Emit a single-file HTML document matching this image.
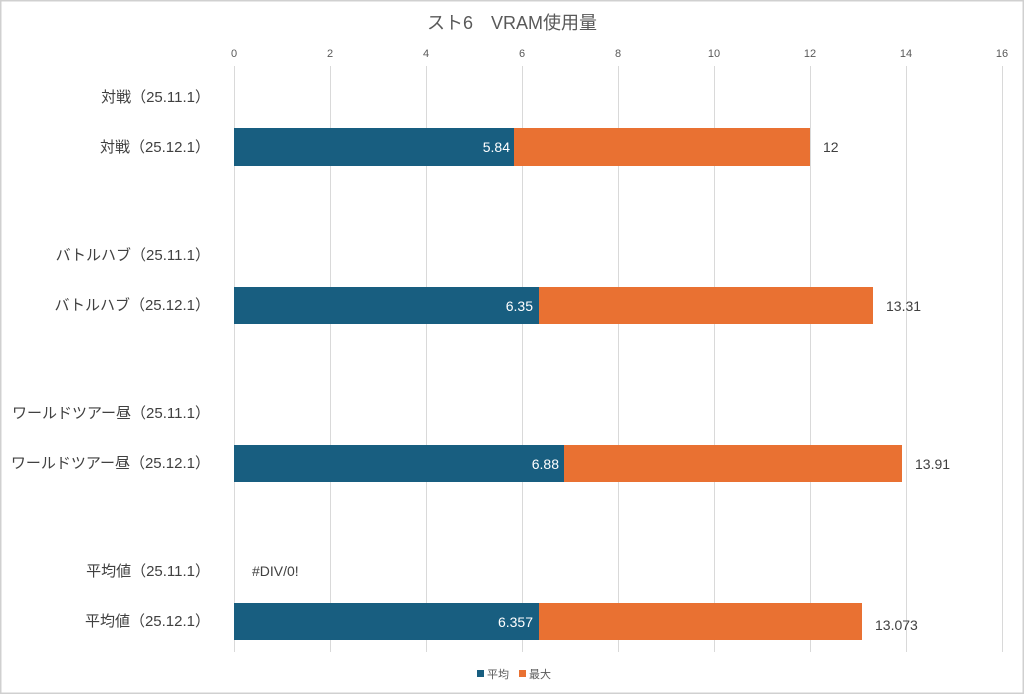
<!DOCTYPE html>
<html><head><meta charset="utf-8"><style>
html,body{margin:0;padding:0;background:#fff}
svg{display:block;font-family:"Liberation Sans","Noto Sans CJK JP",sans-serif}
</style></head><body>
<svg width="1024" height="694" viewBox="0 0 1024 694" xmlns="http://www.w3.org/2000/svg">
<rect x="0.5" y="0.5" width="1023" height="693" fill="#fff" stroke="#d0d0d0" stroke-width="2"/>
<text x="512" y="29" text-anchor="middle" font-size="18" fill="#595959">スト6　VRAM使用量</text>
<g stroke="#d9d9d9" stroke-width="1">
<line x1="234.5" y1="66" x2="234.5" y2="652"/><line x1="330.5" y1="66" x2="330.5" y2="652"/>
<line x1="426.5" y1="66" x2="426.5" y2="652"/><line x1="522.5" y1="66" x2="522.5" y2="652"/>
<line x1="618.5" y1="66" x2="618.5" y2="652"/><line x1="714.5" y1="66" x2="714.5" y2="652"/>
<line x1="810.5" y1="66" x2="810.5" y2="652"/><line x1="906.5" y1="66" x2="906.5" y2="652"/>
<line x1="1002.5" y1="66" x2="1002.5" y2="652"/>
</g>
<g font-size="11" fill="#595959" text-anchor="middle">
<text x="234" y="57">0</text><text x="330" y="57">2</text><text x="426" y="57">4</text><text x="522" y="57">6</text><text x="618" y="57">8</text><text x="714" y="57">10</text><text x="810" y="57">12</text><text x="906" y="57">14</text><text x="1002" y="57">16</text>
</g>
<g font-size="15" fill="#404040" text-anchor="end">
<text x="210" y="102">対戦（25.11.1）</text>
<text x="210" y="152">対戦（25.12.1）</text>
<text x="210" y="260">バトルハブ（25.11.1）</text>
<text x="210" y="310">バトルハブ（25.12.1）</text>
<text x="210" y="418">ワールドツアー昼（25.11.1）</text>
<text x="210" y="468">ワールドツアー昼（25.12.1）</text>
<text x="210" y="576">平均値（25.11.1）</text>
<text x="210" y="626">平均値（25.12.1）</text>
</g>
<rect x="234" y="128" width="280" height="38" fill="#185e80"/><rect x="514" y="128" width="296" height="38" fill="#e97132"/>
<rect x="234" y="287" width="305" height="37" fill="#185e80"/><rect x="539" y="287" width="334" height="37" fill="#e97132"/>
<rect x="234" y="445" width="330" height="37" fill="#185e80"/><rect x="564" y="445" width="338" height="37" fill="#e97132"/>
<rect x="234" y="603" width="305" height="37" fill="#185e80"/><rect x="539" y="603" width="323" height="37" fill="#e97132"/>
<g font-size="14" fill="#fff" text-anchor="end">
<text x="510" y="152">5.84</text><text x="533" y="311">6.35</text><text x="559" y="469">6.88</text><text x="533" y="627">6.357</text>
</g>
<g font-size="14" fill="#404040">
<text x="823" y="152">12</text><text x="886" y="311">13.31</text><text x="915" y="469">13.91</text><text x="875" y="630">13.073</text>
<text x="252" y="576">#DIV/0!</text>
</g>
<rect x="477" y="670" width="7" height="7" fill="#185e80"/>
<text x="487" y="678" font-size="11" fill="#595959">平均</text>
<rect x="519" y="670" width="7" height="7" fill="#e97132"/>
<text x="529" y="678" font-size="11" fill="#595959">最大</text>
</svg>
</body></html>
